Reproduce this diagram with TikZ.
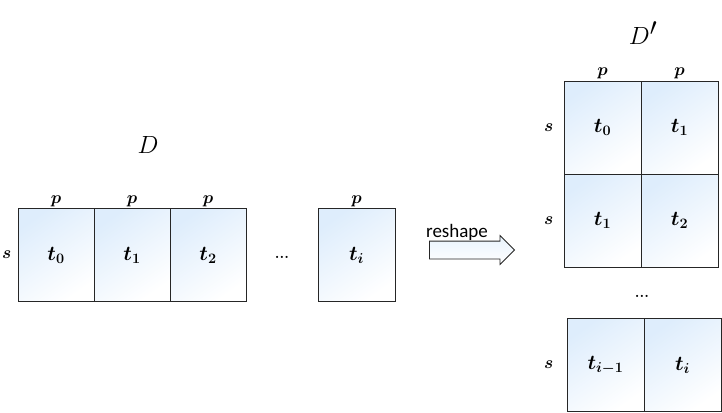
\documentclass[tikz,border=0pt]{standalone}
\usepackage{fontspec}
\newfontfamily\labelfont{Carlito}
\usepackage{amsmath}
\usetikzlibrary{positioning}
\usetikzlibrary{shapes.arrows}
\definecolor{cellblue}{RGB}{222,237,252}
\tikzset{
  cell/.style={rectangle, draw=black!85, line width=0.9pt, minimum width=77pt, minimum height=93pt, inner sep=0pt, top color=cellblue, bottom color=white, shading angle=35, font=\fontsize{21}{24}\selectfont\boldmath},
  dim/.style={font=\fontsize{16}{18}\selectfont\boldmath, inner sep=1pt},
  title/.style={font=\fontsize{36}{40}\selectfont},
  dots/.style={font=\fontsize{15}{16}\selectfont\bfseries},
}

\begin{document}
\begin{tikzpicture}[x=1pt, y=-1pt]
\useasboundingbox (0,0) rectangle (722,412);
% D: one row of blocks
\node [title] (D) at (148,145) {$D$};
\node [cell, minimum width=76pt] (L0) at (56,255) {$t_0$};
\node [cell, minimum width=76pt] (L1) at (132,255) {$t_1$};
\node [cell, minimum width=76pt] (L2) at (208,255) {$t_2$};
\node [dots] (Ldots) at (282,257) {...};
\node [cell] (Li) at (356.5,255) {$t_i$};
\node [dim, above=0pt of L0] (pL0) {$p$};
\node [dim, above=0pt of L1] (pL1) {$p$};
\node [dim, above=0pt of L2] (pL2) {$p$};
\node [dim, above=0pt of Li] (pLi) {$p$};
\node [dim, left=5pt of L0] (sL) {$s$};
% reshape arrow
\node [single arrow, draw=black!85, line width=0.8pt, top color=cellblue!70, bottom color=white, minimum height=85pt, minimum width=28pt, single arrow head extend=5.5pt, inner sep=0pt, text height=17pt] (arr) at (467.5,250) {};
\node [font=\labelfont\fontsize{19}{21}\selectfont, inner sep=0pt] (lab) at (457,232) {reshape};
% D': blocks stacked two by two
\node [title] (Dp) at (643,33) {$D'$};
\node [cell] (R00) at (602.5,127.5) {$t_0$};
\node [cell] (R01) at (679.5,127.5) {$t_1$};
\node [cell] (R10) at (602.5,220.5) {$t_1$};
\node [cell] (R11) at (679.5,220.5) {$t_2$};
\node [dots] (Rdots) at (642,296) {...};
\node [cell] (Rn0) at (605.5,365) {$t_{i-1}$};
\node [cell] (Rn1) at (682.5,365) {$t_i$};
\node [dim, above=0pt of R00] (pR0) {$p$};
\node [dim, above=0pt of R01] (pR1) {$p$};
\node [dim, left=9pt of R00] (sR0) {$s$};
\node [dim, left=9pt of R10] (sR1) {$s$};
\node [dim, left=12pt of Rn0] (sRn) {$s$};
\end{tikzpicture}
\end{document}
